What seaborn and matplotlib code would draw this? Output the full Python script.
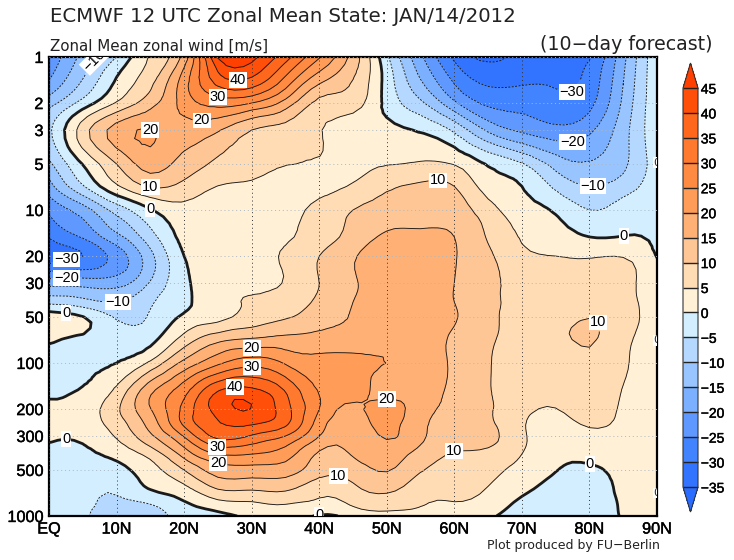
import numpy as np
import matplotlib
matplotlib.use("Agg")
import matplotlib.pyplot as plt
import matplotlib.patheffects as pe
import matplotlib.tri as mtri
import seaborn as sns

lats = [0, 5, 10, 15, 20, 25, 30, 35, 40, 45, 50, 55, 60, 65, 70, 75, 80, 85, 90]
levels_hpa = [1, 1.5, 2, 3, 5, 7, 10, 15, 20, 30, 40, 50, 70, 100, 150, 200, 250, 300, 400, 500, 700, 850, 1000]
u_1 = [-24, -13.5, -5, 5.5, 17, 45.5, 46.5, 37, 25.5, 13, -4, -19, -31, -36, -33.5, -33, -30.5, -16.5, -1]
u_1p5 = [-19, -9, 1, 9, 23, 36, 37, 27, 15, 9.5, -2, -14, -25, -30.5, -30.3, -30.5, -28, -15, -1]
u_2 = [-12, -3, 5.5, 13, 22, 27, 25, 18, 8.5, 7, -1.5, -9, -19, -26, -26.5, -28.5, -26.5, -14, -1]
u_3 = [-6, 7.5, 17, 20.05, 18, 15.5, 10, 8, 5.3, 3, 1.5, -0.5, -6, -16, -21, -23.5, -21, -12, -1]
u_5 = [-11, 0.2, 10, 17, 13, 9, 6.5, 5.1, 4.5, 4, 4.8, 5.5, 4.8, -0.5, -4.5, -12, -14.5, -11, -2]
u_7 = [-17, -5.5, 4.3, 10.5, 8.5, 4.9, 4.2, 3.5, 3.5, 5.5, 9, 11, 10, 2.8, 0, -6, -10, -7.5, -2]
u_10 = [-24, -17.5, -8, -0.5, 3.5, 3, 3, 3.5, 6.5, 10, 12.5, 13, 12.4, 7, 2.3, -0.7, -5, -3, -1.5]
u_15 = [-29.5, -24.5, -16.5, -7, 1.5, 3.5, 3.8, 4.5, 7.5, 12, 15.8, 16.5, 15, 9.5, 4.7, 2.7, 0, 0.2, -0.7]
u_20 = [-33, -30, -23, -11.5, 0, 4, 4.5, 5.5, 10, 14.5, 18, 19, 15.3, 11, 6, 5, 4.5, 4.8, -0.2]
u_30 = [-17, -17, -17, -9.5, -1.2, 3.2, 4, 5.3, 10, 14.5, 17.5, 18.5, 15, 11, 9, 8.5, 8.5, 6.5, 2]
u_40 = [-6.3, -8, -10, -5.7, -1, 3, 5.5, 7.5, 11, 15, 17.5, 18.3, 15, 11, 9, 8.6, 9, 7, 2]
u_50 = [2.5, 0.2, -5.5, -4.5, 0.8, 3.5, 7, 9.5, 12.5, 15.3, 17.5, 18, 15.5, 11, 9, 8.8, 9.9, 7.5, 2]
u_70 = [1, -1.5, -3, -1.5, 7, 13.5, 15.5, 16.5, 17, 17.5, 18, 17.5, 14, 10.5, 9, 9, 10.4, 6.5, 2]
u_100 = [-2, -1.5, 0, 6, 16.5, 24, 28, 24.5, 21.5, 21.5, 19.95, 18, 14, 10.2, 8.5, 7.5, 9, 5.8, 2]
u_150 = [-1.5, 0.3, 6, 18.5, 28, 39.5, 41, 34.5, 24.5, 21.5, 18.5, 17.5, 13.5, 10.2, 7.5, 6, 7.5, 4.8, 2]
u_200 = [1.5, 2.5, 9, 19.8, 31.5, 42, 44.9, 37, 25, 19, 22, 17, 13.5, 10.5, 6.5, 4.9, 7, 4.3, 2]
u_250 = [1.2, 2.2, 7.5, 17, 31, 39.5, 40.5, 36, 22.5, 17.5, 21.5, 16, 13.7, 11, 5.5, 3.5, 5.5, 4, 1.5]
u_300 = [0.5, 0.8, 5.5, 14, 25.5, 36.5, 34.5, 30, 20, 17, 20.5, 16, 12.3, 11.5, 5.8, 2.5, 4, 3, 1.5]
u_400 = [-1, -1, 1.2, 6.5, 16.5, 24.5, 24.5, 22, 14, 15.3, 17.5, 13, 9.5, 8.5, 4.9, 1.2, 1.5, 2, 1.5]
u_500 = [-1.5, -2, -1.5, 3, 10, 17.5, 18, 17.5, 12, 12.5, 15.3, 10.5, 8, 6.5, 3.5, 0.2, -1, 1.5, 1.5]
u_700 = [-1.5, -3, -4.7, -0.8, 2.5, 8.5, 9, 9.5, 6, 8, 10.3, 6.5, 5.8, 4.5, 0.7, -2.5, -3, 1, 1.5]
u_850 = [-2, -4, -5.7, -5.3, -1, 2.5, 3.8, 4.7, 3.5, 5.3, 6.5, 5.2, 4.6, 3, -1.5, -3.5, -3.5, 0.7, 1.5]
u_1000 = [-2, -4.5, -6, -6.5, -3.5, -1.5, 1, 2, -0.5, 2, 4, 3, 2.5, 1, -3, -3.5, -3.5, 0.5, 1.5]

band_levels = list(range(-35, 50, 5))
odd_levels = list(range(-35, 50, 10))
ten_levels = list(range(-30, 50, 10))
band_colors = ["#2a6cff", "#3273ff", "#4284ff", "#5f98ff", "#7ab0ff", "#98c5ff", "#b4d8ff", "#d2eeff",
               "#fff0d6", "#ffdcb4", "#ffc695", "#ffb075", "#ff9d58", "#ff8b42", "#ff7a2e", "#ff681c", "#ff4f08", "#ff4000"]
y_ticks = [1, 2, 3, 5, 10, 20, 30, 50, 100, 200, 300, 500, 1000]
x_ticks = [0, 10, 20, 30, 40, 50, 60, 70, 80, 90]
x_labels = ["EQ", "10N", "20N", "30N", "40N", "50N", "60N", "70N", "80N", "90N"]
label_spots = [(28, 1.4), (25, 1.86), (22.6, 2.58), (15, 3.0), (15, 7.2), (15, 9.8), (7.5, 1.13),
               (2.6, 21.3), (2.6, 28), (10.2, 40), (77.5, 1.8), (77.5, 3.6), (80.5, 6.9), (57.5, 6.6),
               (85, 14), (2.6, 46), (30, 80), (30, 102), (27.5, 140), (25, 345), (25, 465), (42.5, 620),
               (2.6, 300), (40, 940), (50, 170), (60, 380), (80, 460), (82.5, 48.6)]
edge_zero_levels = [4.9, 71, 708]

sns.set_theme(style="white")
plt.rcParams["font.family"] = ["DejaVu Sans"]
palette = sns.color_palette(band_colors)

u = np.array([u_1, u_1p5, u_2, u_3, u_5, u_7, u_10, u_15, u_20, u_30, u_40, u_50, u_70, u_100,
              u_150, u_200, u_250, u_300, u_400, u_500, u_700, u_850, u_1000])

# smooth the read values on a refined mesh in (lat, log p), as the original contouring does
gx, gy = np.meshgrid(lats, np.log10(levels_hpa))
base = mtri.Triangulation(gx.ravel(), gy.ravel())
fine, fine_u = mtri.UniformTriRefiner(base).refine_field(u.ravel(), subdiv=2)
tri = mtri.Triangulation(fine.x, 10 ** fine.y, fine.triangles)

fig = plt.figure(figsize=(7.34, 5.60), dpi=100, facecolor="white")
ax = fig.add_axes([49 / 734, 44 / 560, 608 / 734, 459 / 560])
ax.set_yscale("log")
cf = ax.tricontourf(tri, fine_u, levels=band_levels, colors=palette, extend="both")
dash = (0, (2.2, 1.6))
ax.tricontour(tri, fine_u, levels=odd_levels, colors="#1a1a1a", linewidths=0.65,
              linestyles=[dash if v < 0 else "-" for v in odd_levels])
cs = ax.tricontour(tri, fine_u, levels=ten_levels, colors="#1a1a1a",
                   linewidths=[2.0 if v == 0 else 0.65 for v in ten_levels],
                   linestyles=[dash if v < 0 else "-" for v in ten_levels])


def fmt(v):
    return f"{int(v)}".replace("-", "\u2212")


stroke = [pe.withStroke(linewidth=0.3, foreground="black")]
texts = ax.clabel(cs, fmt=fmt, fontsize=10.5, inline=True, inline_spacing=0, manual=label_spots, colors="black")
for i, t in enumerate(texts):
    t.set_rotation(45 if i == 6 else 0)
    t.set_family("Liberation Sans")
    t.set_bbox(dict(facecolor="white", edgecolor="none", pad=0.6))
    t.set_clip_path(ax.patch)
    t.set_clip_on(True)

for p in edge_zero_levels:
    ax.text(90, p, "0", fontsize=8, ha="center", va="center", clip_on=True,
            bbox=dict(facecolor="white", edgecolor="none", pad=0.3))

ax.set_xlim(0, 90)
ax.set_ylim(1000, 1)
ax.set_xticks(x_ticks, x_labels)
ax.set_yticks(y_ticks, [str(v) for v in y_ticks])
ax.minorticks_off()
ax.tick_params(axis="both", length=0, pad=4, labelcolor="black")
for t in ax.get_xticklabels() + ax.get_yticklabels():
    t.set_family("Liberation Sans")
    t.set_fontsize(11.7)
    t.set_path_effects(stroke)
ax.xaxis.grid(True, color="#333333", linestyle=(0, (1, 3)), linewidth=0.7, zorder=5)
ax.yaxis.grid(True, color="#aab8c4", linestyle=(0, (1, 3)), linewidth=0.7, zorder=5)
ax.set_axisbelow(False)
for s in ax.spines.values():
    s.set_visible(True)
    s.set_color("black")
    s.set_linewidth(1.6)

cax = fig.add_axes([683 / 734, (560 - 512) / 560, 15 / 734, 449 / 560])
cb = fig.colorbar(cf, cax=cax, extend="both", extendfrac=0.0627, ticks=band_levels, drawedges=True)
cb.dividers.set_color("#222222")
cb.dividers.set_linewidth(1.0)
cb.outline.set_edgecolor("#333333")
cb.outline.set_linewidth(0.8)
cax.set_yticklabels([str(v).replace("-", "\u2212") for v in band_levels])
cax.tick_params(axis="y", length=0, pad=2, labelcolor="black")
for t in cax.get_yticklabels():
    t.set_family("Liberation Sans")
    t.set_fontsize(10)
    t.set_path_effects(stroke)

fig.text(50 / 734, 1 - 17 / 560, "ECMWF 12 UTC Zonal Mean State: JAN/14/2012", fontsize=14.2, va="center", ha="left", color="#222222")
fig.text(50 / 734, 1 - 46 / 560, "Zonal Mean zonal wind [m/s]", fontsize=10.9, va="center", ha="left", color="#222222")
fig.text(713 / 734, 1 - 44 / 560, "(10\u2212day forecast)", fontsize=13.7, va="center", ha="right", color="#222222")
fig.text(660 / 734, 1 - 545 / 560, "Plot produced by FU\u2212Berlin", fontsize=9, va="center", ha="right", color="#222222")

fig.savefig("out.png", dpi=100)
